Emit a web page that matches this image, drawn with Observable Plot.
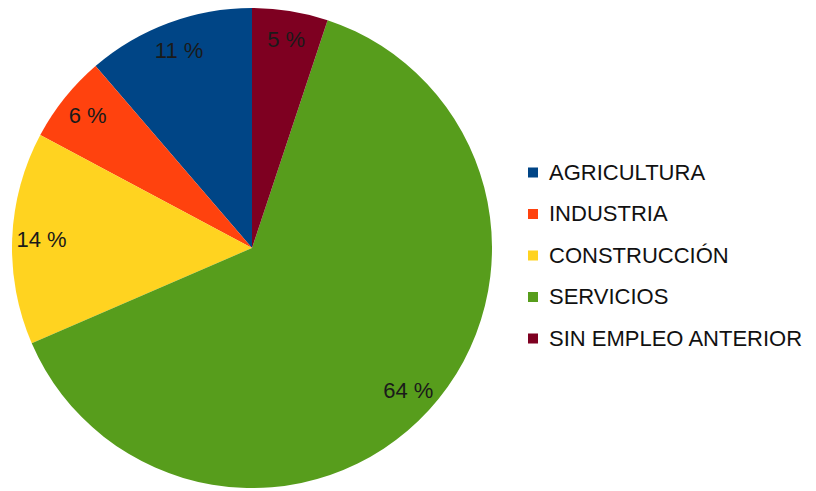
<!DOCTYPE html>
<html><head><meta charset="utf-8">
<script src="https://cdn.jsdelivr.net/npm/d3@7"></script>
<script src="https://cdn.jsdelivr.net/npm/@observablehq/plot@0.6"></script>
<style>
body{margin:0;background:#fff}
svg{font-family:"Liberation Sans",Arial,sans-serif}
</style>
</head><body><div id="chart"></div>
<script>
const categories = ["AGRICULTURA","INDUSTRIA","CONSTRUCCIÓN","SERVICIOS","SIN EMPLEO ANTERIOR"];
const shares = [11.3, 5.9, 14.3, 63.4, 5.1];
const labels = ["11 %","6 %","14 %","64 %","5 %"];
const colors = ["#004586","#ff420e","#ffd320","#579d1c","#7e0021"];

const data = categories.map((c,i)=>({category:c, share:shares[i], label:labels[i]}));
// drawn counterclockwise from 12 o'clock
const arcs = d3.pie().value(d=>d.share).sort(null).startAngle(0).endAngle(-2*Math.PI)(data);
const mid = d => (d.startAngle + d.endAngle)/2;
const labelRadius = 0.88;

const pieMark = Plot.dot(arcs, {
  x: () => 0, y: () => 0, fill: d => d.data.category,
  render(index, scales, values) {
    const cx = scales.x(0), cy = scales.y(0), r = scales.x(1) - cx;
    const arc = d3.arc().innerRadius(0).outerRadius(r);
    const g = d3.create("svg:g").attr("transform", `translate(${cx},${cy})`);
    g.selectAll("path").data(index).join("path")
      .attr("d", i => arc(arcs[i]))
      .attr("fill", i => values.fill[i]);
    return g.node();
  }
});

const labelMark = Plot.text(arcs, {
  x: d => labelRadius*Math.sin(mid(d)),
  y: d => labelRadius*Math.cos(mid(d)),
  text: d => d.data.label,
  fontSize: 22, fill: "#1a1a1a"
});

const legendMark = Plot.dot(data, {
  x: () => 0, y: () => 0, fill: "category",
  render(index, scales, values) {
    const g = d3.create("svg:g").attr("text-anchor", "start");
    const top = 172, step = 41.5, sx = 528, tx = 549;
    index.forEach((i, k) => {
      const y = top + k*step;
      g.append("rect").attr("x", sx).attr("y", y - 4.5).attr("width", 10).attr("height", 10)
        .attr("fill", values.fill[i]);
      g.append("text").attr("x", tx).attr("y", y).attr("dy", "0.36em")
        .attr("text-anchor", "start")
        .attr("font-size", 22).attr("fill", "#111").text(data[i].category);
    });
    return g.node();
  }
});

const chart = Plot.plot({
  width: 816, height: 491,
  margin: 0,
  x: {domain: [-1, 1], range: [12, 492], axis: null},
  y: {domain: [-1, 1], range: [488, 8], axis: null},
  color: {domain: categories, range: colors},
  marks: [pieMark, labelMark, legendMark]
});
document.getElementById("chart").append(chart);
</script>
</body></html>
